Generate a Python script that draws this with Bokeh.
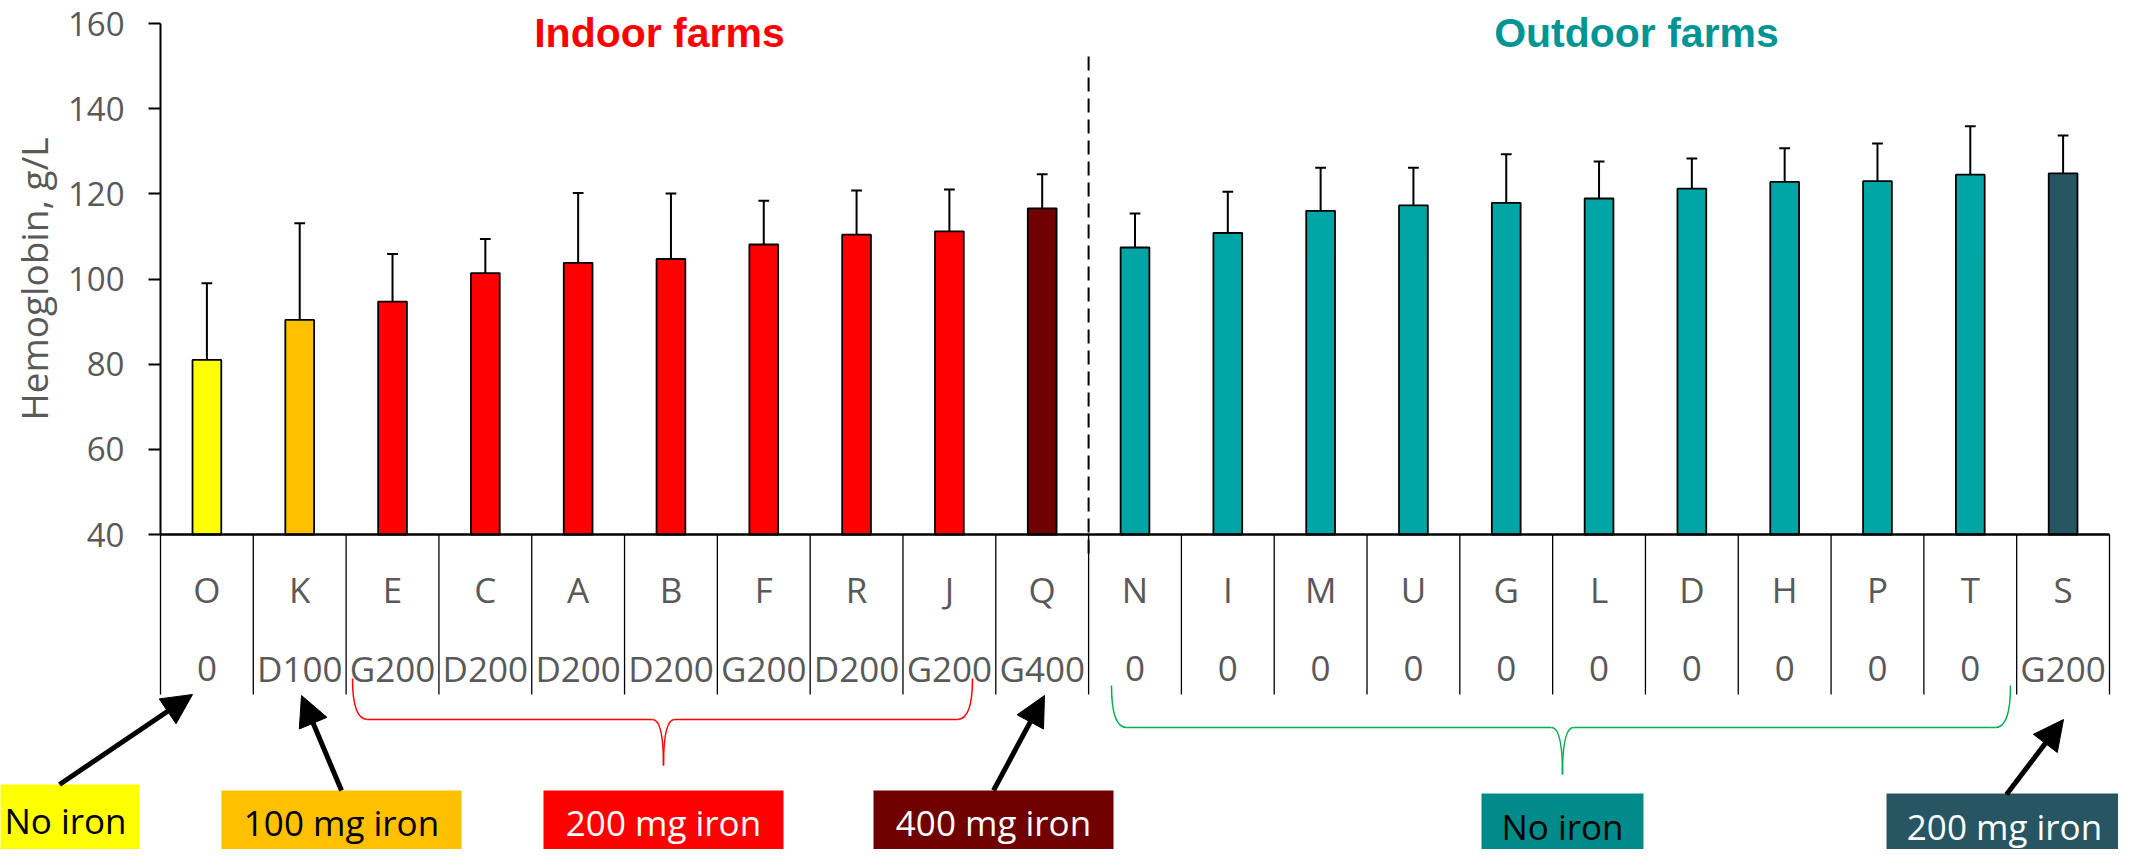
import numpy as np
from bokeh.plotting import figure
from bokeh.models import Range1d, LinearAxis, FixedTicker, Arrow, NormalHead
from bokeh.core.properties import value
from bokeh.embed import file_html
from bokeh.resources import INLINE

# ---------------- data ----------------
farms = ["O", "K", "E", "C", "A", "B", "F", "R", "J", "Q",
         "N", "I", "M", "U", "G", "L", "D", "H", "P", "T", "S"]
doses = ["0", "D100", "G200", "D200", "D200", "D200", "G200", "D200", "G200", "G400",
         "0", "0", "0", "0", "0", "0", "0", "0", "0", "0", "G200"]
housing = ["Indoor"] * 10 + ["Outdoor"] * 11
hb_mean = [81.0, 90.4, 94.7, 101.4, 103.8, 104.7, 108.1, 110.4, 111.2, 116.6,
           107.4, 110.8, 116.0, 117.3, 117.9, 118.9, 121.2, 122.8, 123.0, 124.5, 124.8]
hb_sd = [18.0, 22.7, 11.2, 8.0, 16.4, 15.4, 10.3, 10.4, 9.8, 8.0,
         8.0, 9.7, 10.1, 8.8, 11.4, 8.7, 7.1, 7.9, 8.8, 11.4, 8.9]
y_ticks = [40, 60, 80, 100, 120, 140, 160]
y_label = "Hemoglobin, g/L"
group_titles = ["Indoor farms", "Outdoor farms"]
key_labels = ["No iron", "100 mg iron", "200 mg iron", "400 mg iron", "No iron", "200 mg iron"]

# ---------------- styles ----------------
indoor_cols = {0: "#FFFF00", 100: "#FFC000", 200: "#FF0000", 400: "#700000"}
outdoor_cols = {0: "#00A5A5", 200: "#275662"}
def dose_mg(d):
    return int(d.lstrip("DG"))
bar_colors = [(indoor_cols if h == "Indoor" else outdoor_cols)[dose_mg(d)]
              for h, d in zip(housing, doses)]

n = len(farms)
xs = np.arange(n) + 0.5
upper = np.array(hb_mean) + np.array(hb_sd)

# pixel -> data helpers (reference pixel geometry)
X0, X21 = 168.0, 2117.0
CW = (X21 - X0) / n
Y40, Y160 = 542.0, 31.0
PU = (Y40 - Y160) / 120.0
def dx(px):
    return (px - X0) / CW
def dy(py):
    return 40 + (Y40 - py) / PU

W, H = 2118, 849
p = figure(width=W, height=H, output_backend="svg", toolbar_location=None,
           x_range=Range1d(dx(8), dx(8 + W)), y_range=Range1d(dy(8 + H), dy(8)),
           x_axis_location=None, y_axis_location=None,
           min_border_left=0, min_border_right=0, min_border_top=0, min_border_bottom=0)
p.outline_line_color = None
p.xgrid.visible = False
p.ygrid.visible = False
p.background_fill_color = "white"
p.border_fill_color = "white"

FONT = "Open Sans"
GRAY = "#595959"

yaxis = LinearAxis(fixed_location=0, bounds=(40, 160), ticker=FixedTicker(ticks=y_ticks),
                   axis_label=y_label)
yaxis.axis_line_color = "black"
yaxis.axis_line_width = 2
yaxis.major_tick_line_color = "black"
yaxis.major_tick_line_width = 2
yaxis.major_tick_out = 12
yaxis.major_tick_in = 0
yaxis.minor_tick_line_color = None
yaxis.major_label_text_font = FONT
yaxis.major_label_text_font_size = "33px"
yaxis.major_label_text_color = GRAY
yaxis.major_label_standoff = 24
yaxis.axis_label_text_font = FONT
yaxis.axis_label_text_font_size = "37px"
yaxis.axis_label_text_font_style = "normal"
yaxis.axis_label_text_color = GRAY
yaxis.axis_label_standoff = 6
p.add_layout(yaxis, "left")

# bars + error bars
p.vbar(x=xs, top=hb_mean, bottom=40, width=0.31, fill_color=bar_colors,
       line_color="black", line_width=1.8)
p.segment(x0=xs, y0=hb_mean, x1=xs, y1=upper, line_color="black", line_width=2)
p.segment(x0=xs - 0.058, y0=upper, x1=xs + 0.058, y1=upper, line_color="black", line_width=2)

# x axis line and table
p.segment(x0=[0], y0=[40], x1=[n], y1=[40], line_color="black", line_width=2.5)
edges = np.arange(n + 1)
p.segment(x0=edges, y0=40, x1=edges, y1=dy(702), line_color="black", line_width=1.3)
p.text(x=xs, y=dy(597), text=farms, text_font=value(FONT), text_font_size="35px",
       text_color=GRAY, text_align="center", text_baseline="middle")
p.text(x=xs, y=dy(676), text=doses, text_font=value(FONT), text_font_size="35px",
       text_color=GRAY, text_align="center", text_baseline="middle")

# dashed divider
p.segment(x0=[10], y0=[dy(64)], x1=[10], y1=[dy(565)], line_color="black",
          line_width=2, line_dash="14 7")

# group titles
p.text(x=[dx(667), dx(1644)], y=[dy(40), dy(40)], text=group_titles,
       text_font=value("Liberation Sans"), text_font_style="bold", text_font_size="41px",
       text_color=["#FF0000", "#009595"], text_align="center", text_baseline="middle")

# braces
def brace(xl, xc, xr, ytop, ymid, ytip, color):
    r = 15
    p.quadratic(x0=[dx(xl)], y0=[dy(ytop)], x1=[dx(xl + r)], y1=[dy(ymid)],
                cx=[dx(xl)], cy=[dy(ymid)], line_color=color, line_width=1.5)
    p.segment(x0=[dx(xl + r), dx(xc + 11)], y0=[dy(ymid)] * 2,
              x1=[dx(xc - 11), dx(xr - r)], y1=[dy(ymid)] * 2, line_color=color, line_width=1.5)
    p.quadratic(x0=[dx(xc - 11), dx(xc)], y0=[dy(ymid), dy(ytip)],
                x1=[dx(xc), dx(xc + 11)], y1=[dy(ytip), dy(ymid)],
                cx=[dx(xc), dx(xc)], cy=[dy(ymid), dy(ymid)], line_color=color, line_width=1.5)
    p.quadratic(x0=[dx(xr - r)], y0=[dy(ymid)], x1=[dx(xr)], y1=[dy(ytop)],
                cx=[dx(xr)], cy=[dy(ymid)], line_color=color, line_width=1.5)

brace(360, 671, 980, 686, 727, 773, "#FF0000")
brace(1119, 1570, 2018, 693, 735, 782, "#00B050")

# key boxes
box_l = [-10, 229, 551, 881, 1489, 1894]
box_r = [147, 469, 791, 1121, 1651, 2134]
box_t = [792, 798, 798, 798, 801, 801]
box_b = [866, 866, 866, 866, 866, 866]
box_fill = ["#FFFF00", "#FFC000", "#FF0000", "#700000", "#008B8B", "#275662"]
box_text_col = ["black", "black", "white", "white", "black", "white"]
p.quad(left=[dx(v) for v in box_l], right=[dx(v) for v in box_r],
       top=[dy(v) for v in box_t], bottom=[dy(v) for v in box_b],
       fill_color=box_fill, line_color=None)
tx = [73, 349, 671, 1001, 1570, 2012]
ty = [828, 830, 830, 830, 834, 834]
p.text(x=[dx(v) for v in tx], y=[dy(v) for v in ty], text=key_labels,
       text_font=value(FONT), text_font_size="35px", text_color=box_text_col,
       text_align="center", text_baseline="middle")

# arrows
arrows = [((67, 792), (200, 702)), ((349, 798), (309, 703)),
          ((1001, 798), (1052, 703)), ((2014, 802), (2071, 727))]
for (sx, sy), (ex, ey) in arrows:
    p.add_layout(Arrow(x_start=dx(sx), y_start=dy(sy), x_end=dx(ex), y_end=dy(ey),
                       line_color="black", line_width=5,
                       end=NormalHead(size=30, fill_color="black", line_color="black")))

open("out.html", "w").write(file_html(p, INLINE))
